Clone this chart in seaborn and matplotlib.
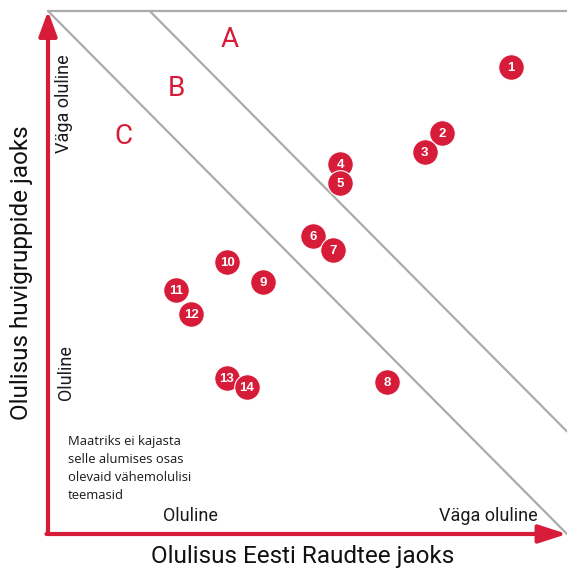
import matplotlib
matplotlib.use("Agg")
import matplotlib.pyplot as plt
import seaborn as sns
import numpy as np
import pandas as pd

# ---- data ----
labels = ["1", "2", "3", "4", "5", "6", "7", "8", "9", "10", "11", "12", "13", "14"]
x_raudtee = [89.2, 75.9, 72.6, 56.3, 56.3, 51.1, 54.9, 65.3, 41.4, 34.5, 24.7, 27.6, 34.5, 38.3]
y_huvigrupp = [89.3, 76.7, 73.0, 70.7, 67.1, 57.0, 54.3, 29.1, 48.2, 52.0, 46.7, 42.1, 29.8, 28.1]
zone_boundaries = [100.0, 119.6]   # x + y = c
zone_letters = ["A", "B", "C"]
zone_letter_pos_x = [35.0, 24.7, 14.5]
zone_letter_pos_y = [94.5, 85.2, 76.0]
x_label = "Olulisus Eesti Raudtee jaoks"
y_label = "Olulisus huvigruppide jaoks"
x_ticks = ["Oluline", "Väga oluline"]
y_ticks = ["Oluline", "Väga oluline"]
note = "Maatriks ei kajasta\nselle alumises osas\nolevaid vähemolulisi\nteemasid"

RED = "#d71c3a"
GRAY = "#ababab"
TXT = "#1a1a1a"

df = pd.DataFrame({"x": x_raudtee, "y": y_huvigrupp, "label": labels})

sns.set_theme(style="white")
plt.rcParams["font.family"] = ["Roboto", "DejaVu Sans"]

W, H = 567, 577
fig = plt.figure(figsize=(W / 100, H / 100), dpi=100)
x0, x1, yb, yt = 48, 567, 534, 11
ax = fig.add_axes([x0 / W, (H - yb) / H, (x1 - x0) / W, (yb - yt) / H])
ax.set_xlim(0, 100)
ax.set_ylim(0, 100)
ax.axis("off")

# top gray line
ax.plot([0, 100], [100, 100], color=GRAY, lw=1.6, clip_on=False, zorder=1)
# zone boundaries
for c in zone_boundaries:
    xs = np.array([max(0, c - 100), min(100, c)])
    ys = c - xs
    ax.plot(xs, ys, color=GRAY, lw=1.6, clip_on=False, zorder=1)

# axes arrows
ax.annotate("", xy=(0, 100), xytext=(0, 0),
            arrowprops=dict(arrowstyle="-|>,head_length=1.5,head_width=0.55",
                            color=RED, lw=3, shrinkA=0, shrinkB=0, mutation_scale=10),
            annotation_clip=False, zorder=3)
ax.annotate("", xy=(100, 0), xytext=(-0.3, 0),
            arrowprops=dict(arrowstyle="-|>,head_length=1.7,head_width=0.55",
                            color=RED, lw=3, shrinkA=0, shrinkB=0, mutation_scale=10),
            annotation_clip=False, zorder=3)

# points
sns.scatterplot(data=df, x="x", y="y", ax=ax, s=340, color=RED, edgecolor="white",
                linewidth=0.8, legend=False, zorder=5, clip_on=False)
for _, r in df.iterrows():
    ax.text(r["x"], r["y"] - 0.2, r["label"], color="white", fontsize=9.5,
            fontweight="bold", ha="center", va="center", zorder=6,
            family=["Liberation Sans", "DejaVu Sans"])

# zone letters
for L, lx, ly in zip(zone_letters, zone_letter_pos_x, zone_letter_pos_y):
    ax.text(lx, ly, L, color=RED, fontsize=20, ha="center", va="center")

# tick-like labels
ax.text(27.5, 3.5, x_ticks[0], fontsize=13, ha="center", va="center", color=TXT)
ax.text(84.9, 3.5, x_ticks[1], fontsize=13, ha="center", va="center", color=TXT)
ax.text(3.4, 30.8, y_ticks[0], fontsize=13, ha="center", va="center",
        rotation=90, color=TXT)
ax.text(3.1, 82.3, y_ticks[1], fontsize=13, ha="center", va="center",
        rotation=90, color=TXT)

# note
ax.text(3.8, 19.0, note, fontsize=9.4, ha="left", va="top", linespacing=1.5,
        color=TXT, family=["Open Sans", "DejaVu Sans"])

# axis titles
fig.text(303 / W, 1 - 557 / H, x_label, fontsize=17.5,
         ha="center", va="center", color="#111111")
fig.text(22 / W, 1 - 273 / H, y_label, fontsize=17.5,
         ha="center", va="center", rotation=90, color="#111111")

fig.savefig("out.png", dpi=100)
